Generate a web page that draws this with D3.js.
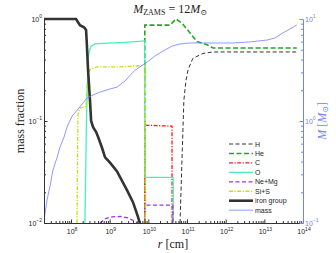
<!DOCTYPE html>
<html>
<head>
<meta charset="utf-8">
<script src="https://cdn.jsdelivr.net/npm/d3@7"></script>
<style>
  body { margin: 0; background: #fff; }
  svg text { font-family: "Liberation Sans", Arial, sans-serif; }
  .serif { font-family: "Liberation Serif", "DejaVu Serif", serif; }
</style>
</head>
<body>
<div id="graf"></div>
<script>
// --- datos: [r en cm, valor] ---
const hydrogen = [[6.6e10,0.01],[7.4e10,0.041],[8.3e10,0.16],[9.4e10,0.25],[1.07e11,0.32],[1.41e11,0.41],[2.6e11,0.46],[4.7e11,0.475],[6.9e13,0.475]]
const helium = [[8.1e9,0.01],[8.1e9,0.87],[3.6e10,0.87],[5.2e10,1.0],[7.4e10,0.91],[1.2e11,0.73],[1.82e11,0.6],[3.3e11,0.56],[4.7e11,0.52],[6.9e13,0.52]]
const carbon = [[8.1e9,0.01],[8.1e9,0.091],[4.1e10,0.089],[4.1e10,0.01]]
const oxygen = [[2.29e8,0.01],[2.51e8,0.1],[2.75e8,0.4],[2.95e8,0.48],[3.31e8,0.54],[4.17e8,0.57],[8.5e8,0.58],[2.5e9,0.59],[8.1e9,0.61],[8.15e9,0.028],[4.4e10,0.028],[4.4e10,0.01]]
const neonMg = [[5.6e8,0.01],[7.6e8,0.011],[1.15e9,0.0115],[1.86e9,0.0116],[2.95e9,0.0112],[4.3e9,0.0105],[5.1e9,0.01],null,[8.1e9,0.01],[8.15e9,0.015],[4.3e10,0.015],[4.35e10,0.01]]
const siliconS = [[1.43e8,0.01],[1.48e8,0.052],[1.51e8,0.115],[1.7e8,0.134],[2.19e8,0.137],[2.45e8,0.14],[2.57e8,0.2],[2.75e8,0.28],[3.09e8,0.32],[4.68e8,0.34],[1.86e9,0.34],[8.1e9,0.35],[8.3e9,0.01]]
const ironGroup = [[2.0e7,1.0],[1.35e8,1.0],[1.7e8,0.87],[2.17e8,0.83],[2.45e8,0.78],[2.57e8,0.56],[2.75e8,0.32],[3.09e8,0.16],[3.31e8,0.1],[3.72e8,0.087],[4.47e8,0.078],[5.0e8,0.07],[6.3e8,0.055],[7.6e8,0.044],[1.02e9,0.039],[1.55e9,0.032],[2.8e9,0.021],[4.0e9,0.016],[5.4e9,0.0115],[6.0e9,0.01]]
const mass = [[2.04e7,0.112],[2.4e7,0.168],[2.9e7,0.236],[3.4e7,0.33],[4.4e7,0.444],[5.2e7,0.556],[6.6e7,0.697],[7.9e7,0.873],[1.07e8,1.12],[1.45e8,1.28],[2.04e8,1.5],[2.57e8,1.68],[3.72e8,1.8],[5.6e8,1.92],[1.02e9,2.06],[1.55e9,2.15],[2.5e9,2.47],[3.4e9,2.82],[4.6e9,3.16],[6.0e9,3.39],[9.3e9,3.78],[1.48e10,4.34],[2.4e10,4.85],[4.1e10,5.43],[6.6e10,5.69],[1.2e11,5.82],[1.55e12,5.82],[4.3e12,5.96],[1.17e13,6.22],[1.9e13,6.52],[3.0e13,7.3],[4.6e13,7.98],[6.9e13,8.74]]

const legendNames = ["H", "He", "C", "O", "Ne+Mg", "Si+S", "iron group", "mass"]
const xTickExps = [8, 9, 10, 11, 12, 13, 14]
const yTickExps = [-2, -1, 0]
const mTickExps = [-1, 0, 1]
const rDomain = [2e7, 1e14]
const fracDomain = [0.01, 1]
const massDomain = [0.1, 10]

const draw = () => {
  const W = 336, H = 253
  const margins = { top: 19, right: 33, bottom: 30, left: 44 }
  const blue = "#7080ff"

  const svg = d3.select("#graf").append("svg")
    .attr("width", W).attr("height", H)

  // Escaladores
  const x = d3.scaleLog().domain(rDomain).range([margins.left, W - margins.right])
  const y = d3.scaleLog().domain(fracDomain).range([H - margins.bottom, margins.top])
  const yM = d3.scaleLog().domain(massDomain).range([H - margins.bottom, margins.top])

  svg.append("clipPath").attr("id", "clip")
    .append("rect")
    .attr("x", margins.left).attr("y", margins.top - 2)
    .attr("width", W - margins.left - margins.right)
    .attr("height", H - margins.top - margins.bottom + 2)

  const series = [
    { name: "H", data: hydrogen, color: "#333", width: 1, dash: "4,2.5" },
    { name: "He", data: helium, color: "#22a822", width: 1.6, dash: "5,2.5" },
    { name: "C", data: carbon, color: "#ff1a1a", width: 1.3, dash: "4,1.5,1.2,1.5" },
    { name: "O", data: oxygen, color: "#48f0b8", width: 1.3, dash: null },
    { name: "Ne+Mg", data: neonMg, color: "#a030f0", width: 1.3, dash: "4,2.5" },
    { name: "Si+S", data: siliconS, color: "#c8e010", width: 1.3, dash: "4,1.5,1.2,1.5" },
    { name: "iron group", data: ironGroup, color: "#333", width: 2.6, dash: null },
    { name: "mass", data: mass, color: blue, width: 0.8, dash: null, right: true }
  ]

  const plot = svg.append("g").attr("clip-path", "url(#clip)")

  series.forEach((s) => {
    const yy = s.right ? yM : y
    const line = d3.line()
      .defined((d) => d !== null)
      .x((d) => x(d[0]))
      .y((d) => yy(d[1]))
    plot.append("path")
      .attr("d", line(s.data))
      .attr("fill", "none")
      .attr("stroke", s.color)
      .attr("stroke-width", s.width)
      .attr("stroke-dasharray", s.dash)
  })

  // Ejes
  const isMajor = (d) => Math.abs(Math.log10(d) - Math.round(Math.log10(d))) < 1e-6
  const fixTicks = (g, big, small) => {
    g.selectAll(".tick line").each(function (d) {
      const l = d3.select(this)
      const len = isMajor(d) ? big : small
      if (l.attr("x2") !== null && +l.attr("x2") !== 0) l.attr("x2", len)
      else l.attr("y2", len)
    })
    g.selectAll(".tick text").remove()
  }

  const xAxisG = svg.append("g")
    .attr("transform", `translate(0, ${H - margins.bottom})`)
    .call(d3.axisBottom(x).tickValues(x.ticks()).tickSizeInner(-3).tickSizeOuter(0))
  fixTicks(xAxisG, -3.5, -2)

  const yAxisG = svg.append("g")
    .attr("transform", `translate(${margins.left}, 0)`)
    .call(d3.axisLeft(y).tickValues(y.ticks()).tickSizeInner(-3).tickSizeOuter(0))
  fixTicks(yAxisG, 3.5, 2)

  const mAxisG = svg.append("g")
    .attr("transform", `translate(${W - margins.right}, 0)`)
    .call(d3.axisRight(yM).tickValues(yM.ticks()).tickSizeInner(-3).tickSizeOuter(0))
  fixTicks(mAxisG, -3.5, -2)
  mAxisG.selectAll("path, line").attr("stroke", blue)

  ;[xAxisG, yAxisG].forEach((g) => g.selectAll("path, line").attr("stroke", "#333"))

  const pow = (sel, e) => {
    sel.append("tspan").text("10")
    sel.append("tspan").attr("dy", -3.5).attr("font-size", 5)
      .text(e < 0 ? "\u2212" + Math.abs(e) : e)
  }

  xTickExps.forEach((e) => {
    const t = svg.append("text")
      .attr("x", x(Math.pow(10, e)) + 1)
      .attr("y", H - margins.bottom + 11)
      .attr("text-anchor", "middle")
      .attr("font-size", 7)
      .attr("fill", "#222")
    pow(t, e)
  })

  yTickExps.forEach((e) => {
    const t = svg.append("text")
      .attr("x", margins.left - 2)
      .attr("y", y(Math.pow(10, e)) + 2.5)
      .attr("text-anchor", "end")
      .attr("font-size", 7)
      .attr("fill", "#222")
    pow(t, e)
  })

  mTickExps.forEach((e) => {
    const t = svg.append("text")
      .attr("x", W - margins.right + 2)
      .attr("y", yM(Math.pow(10, e)) + 2.5)
      .attr("font-size", 7)
      .attr("fill", blue)
    pow(t, e)
  })

  // Titulo y etiquetas
  const title = svg.append("text")
    .classed("serif", true)
    .attr("x", 170).attr("y", 13)
    .attr("text-anchor", "middle")
    .attr("font-size", 12)
    .attr("fill", "#222")
  title.append("tspan").attr("font-style", "italic").text("M")
  title.append("tspan").attr("font-size", 8).attr("dy", 2).text("ZAMS")
  title.append("tspan").attr("dy", -2).text(" = 12")
  title.append("tspan").attr("font-style", "italic").text("M")
  title.append("tspan").attr("font-size", 8).attr("dy", 2).text("\u2299")

  const xl = svg.append("text")
    .classed("serif", true)
    .attr("x", 173).attr("y", 248)
    .attr("text-anchor", "middle")
    .attr("font-size", 12)
    .attr("fill", "#222")
  xl.append("tspan").attr("font-style", "italic").text("r")
  xl.append("tspan").text(" [cm]")

  svg.append("text")
    .classed("serif", true)
    .attr("transform", `translate(24, ${(margins.top + H - margins.bottom) / 2}) rotate(-90)`)
    .attr("text-anchor", "middle")
    .attr("font-size", 12)
    .attr("fill", "#222")
    .text("mass fraction")

  const ml = svg.append("text")
    .classed("serif", true)
    .attr("transform", `translate(326, ${(margins.top + H - margins.bottom) / 2}) rotate(-90)`)
    .attr("text-anchor", "middle")
    .attr("font-size", 12)
    .attr("fill", blue)
  ml.append("tspan").attr("font-style", "italic").text("M")
  ml.append("tspan").text(" [")
  ml.append("tspan").attr("font-style", "italic").text("M")
  ml.append("tspan").attr("font-size", 8).attr("dy", 2).text("\u2299")
  ml.append("tspan").attr("dy", -2).text("]")

  // Leyenda
  const legend = svg.append("g").attr("transform", "translate(229, 144)")
  legendNames.forEach((name, i) => {
    const s = series.find((d) => d.name === name)
    const row = legend.append("g").attr("transform", `translate(0, ${i * 9.45})`)
    row.append("line")
      .attr("x1", 0).attr("x2", 24)
      .attr("stroke", s.color)
      .attr("stroke-width", s.width)
      .attr("stroke-dasharray", s.dash)
    row.append("text")
      .attr("x", 26).attr("y", 2.5)
      .attr("font-size", 7)
      .attr("fill", "#222")
      .text(name)
  })
}

draw()
</script>
</body>
</html>
